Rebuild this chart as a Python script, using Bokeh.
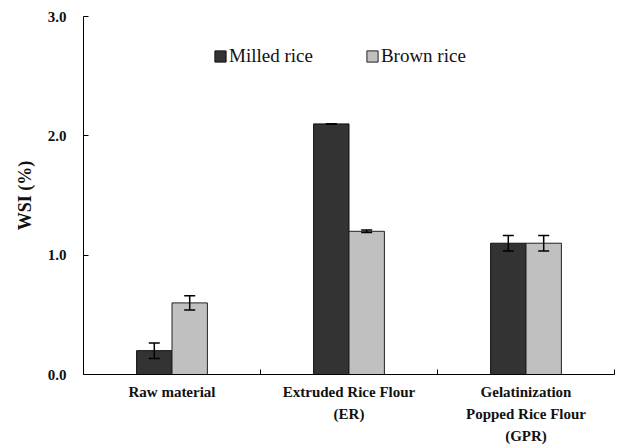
import numpy as np
from bokeh.plotting import figure
from bokeh.models import ColumnDataSource, FixedTicker, Whisker, TeeHead, Legend, LegendItem, Range1d
from bokeh.transform import dodge
from bokeh.embed import file_html
from bokeh.resources import INLINE

categories = ["Raw material", "Extruded Rice Flour\n(ER)", "Gelatinization\nPopped Rice Flour\n(GPR)"]
series_names = ["Milled rice", "Brown rice"]
milled = [0.20, 2.10, 1.10]
milled_err = [0.065, 0.0, 0.065]
brown = [0.60, 1.20, 1.10]
brown_err = [0.06, 0.01, 0.065]
y_ticks = [0.0, 1.0, 2.0, 3.0]

FONT = "'Liberation Serif', 'Times New Roman', serif"

xc = list(np.arange(len(categories)) + 0.5)
src = ColumnDataSource(dict(
    xc=xc,
    milled=milled,
    milled_lo=[v - e for v, e in zip(milled, milled_err)],
    milled_hi=[v + e for v, e in zip(milled, milled_err)],
    brown=brown,
    brown_lo=[v - e for v, e in zip(brown, brown_err)],
    brown_hi=[v + e for v, e in zip(brown, brown_err)],
))

p = figure(width=620, height=448, output_backend="svg", toolbar_location=None,
           x_range=Range1d(0, len(categories)), y_range=Range1d(0, 3.0),
           min_border_left=83, min_border_right=6, min_border_top=16, min_border_bottom=74)
p.outline_line_color = None
p.xgrid.grid_line_color = None
p.ygrid.grid_line_color = None

r1 = p.vbar(x=dodge("xc", -0.1, range=p.x_range), top="milled", width=0.2, source=src,
            fill_color="#333333", line_color="#111111", line_width=1)
r2 = p.vbar(x=dodge("xc", 0.1, range=p.x_range), top="brown", width=0.2, source=src,
            fill_color="#c0c0c0", line_color="#222222", line_width=1)

for off, lo, hi in [(-0.1, "milled_lo", "milled_hi"), (0.1, "brown_lo", "brown_hi")]:
    w = Whisker(base=dodge("xc", off, range=p.x_range), lower=lo, upper=hi, source=src,
                line_color="black", line_width=1.5, level="overlay",
                upper_head=TeeHead(size=11, line_color="black", line_width=1.5),
                lower_head=TeeHead(size=11, line_color="black", line_width=1.5))
    p.add_layout(w)

# x axis
xa = p.xaxis[0]
xa.ticker = FixedTicker(ticks=xc, minor_ticks=[0, 1, 2, 3])
xa.major_label_overrides = {x: c for x, c in zip(xc, categories)}
xa.major_tick_line_color = None
xa.major_tick_in = 0
xa.major_tick_out = 0
xa.minor_tick_in = 5
xa.minor_tick_out = 0
xa.minor_tick_line_color = "black"
xa.axis_line_color = "black"
xa.major_label_text_font = FONT
xa.major_label_text_font_style = "bold"
xa.major_label_text_font_size = "15px"
xa.major_label_text_color = "#111111"
xa.major_label_text_line_height = 1.4
xa.major_label_standoff = 9

# y axis
ya = p.yaxis[0]
ya.ticker = FixedTicker(ticks=y_ticks, minor_ticks=[])
ya.major_label_overrides = {t: f"{t:.1f}" for t in y_ticks}
ya.major_tick_in = 5
ya.major_tick_out = 0
ya.major_tick_line_color = "black"
ya.axis_line_color = "black"
ya.major_label_text_font = FONT
ya.major_label_text_font_style = "bold"
ya.major_label_text_font_size = "15px"
ya.major_label_text_color = "#111111"
ya.major_label_standoff = 17
ya.axis_label = "WSI (%)"
ya.axis_label_text_font = FONT
ya.axis_label_text_font_style = "bold"
ya.axis_label_text_font_size = "18px"
ya.axis_label_text_color = "#111111"
ya.axis_label_standoff = 10

legend = Legend(items=[LegendItem(label=series_names[0], renderers=[r1]),
                       LegendItem(label=series_names[1], renderers=[r2])],
                orientation="horizontal", location=(130, 307),
                label_text_font=FONT, label_text_font_size="19px", label_text_color="#111111",
                glyph_width=14, glyph_height=14, label_standoff=2, spacing=52,
                padding=0, margin=0, border_line_color=None, background_fill_alpha=0)
p.add_layout(legend, "center")

open("out.html", "w").write(file_html(p, INLINE))
